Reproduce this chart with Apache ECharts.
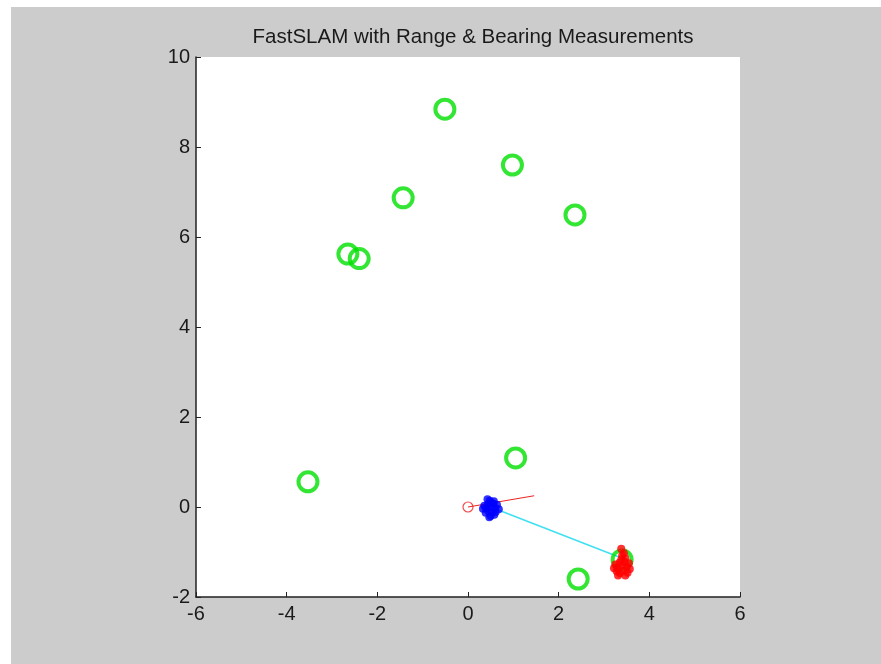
<!DOCTYPE html>
<html>
<head>
<meta charset="utf-8">
<script src="https://cdn.jsdelivr.net/npm/echarts@6/dist/echarts.min.js"></script>
<style>
  html, body { margin: 0; padding: 0; background: #ffffff; }
  #frame { position: absolute; left: 11px; top: 7px; width: 870px; height: 657px; background: #cccccc; }
  #chart { position: absolute; left: 0; top: 0; width: 881px; height: 664px; }
</style>
</head>
<body>
<div id="frame"></div>
<div id="chart"></div>
<script>
// Landmark positions (true map)
const landmarks = [
  [-0.51, 8.84], [0.98, 7.60], [2.36, 6.49], [-1.43, 6.87],
  [-2.65, 5.62], [-2.40, 5.52], [-3.53, 0.56], [1.05, 1.09],
  [2.43, -1.60], [3.40, -1.17]
];

// Robot start pose and heading line
const startPose = [[0, 0]];
const headingLine = [[0, 0], [1.46, 0.25]];

// Robot particle cloud (blue)
const robotParticles = [
  [0.50, 0.00], [0.44, 0.06], [0.56, 0.07], [0.40, -0.03], [0.60, -0.02],
  [0.48, 0.14], [0.53, -0.11], [0.36, 0.03], [0.64, 0.05], [0.45, -0.09],
  [0.57, 0.13], [0.61, -0.11], [0.50, -0.20], [0.43, 0.17], [0.68, -0.05],
  [0.39, -0.13], [0.52, 0.09], [0.58, -0.17], [0.33, -0.04], [0.47, -0.23]
];

// Estimated landmark particles (red)
const landmarkParticles = [
  [3.40, -1.30], [3.34, -1.24], [3.46, -1.22], [3.30, -1.35], [3.50, -1.33],
  [3.38, -1.17], [3.42, -1.41], [3.25, -1.28], [3.55, -1.25], [3.35, -1.47],
  [3.47, -1.14], [3.28, -1.43], [3.57, -1.38], [3.40, -1.08], [3.22, -1.36],
  [3.52, -1.46], [3.44, -1.03], [3.38, -0.93], [3.31, -1.52], [3.47, -1.52]
];

// Current measurement ray (robot -> observed landmark)
const measurement = [[0.50, 0.00], [3.33, -1.11]];

const xTicks = { min: -6, max: 6, interval: 2 };
const yTicks = { min: -2, max: 10, interval: 2 };

const chart = echarts.init(document.getElementById('chart'), null, { renderer: 'canvas' });
const font = 'Liberation Sans, Arial, sans-serif';

chart.setOption({
  backgroundColor: 'transparent',
  animation: false,
  title: {
    text: 'FastSLAM with Range & Bearing Measurements',
    left: 468, top: 22, textAlign: 'center',
    textStyle: { fontFamily: font, fontSize: 20.5, fontWeight: 'normal', color: '#1a1a1a' }
  },
  grid: { left: 196, right: 141, top: 57, bottom: 67, show: true, backgroundColor: '#ffffff', borderWidth: 0 },
  xAxis: {
    type: 'value', min: xTicks.min, max: xTicks.max, interval: xTicks.interval,
    axisLine: { show: true, onZero: false, lineStyle: { color: '#222', width: 1.5 } },
    axisTick: { show: true, inside: true, length: 5, lineStyle: { color: '#222', width: 1 } },
    splitLine: { show: false },
    axisLabel: { margin: 7, fontFamily: font, fontSize: 20, color: '#1a1a1a' }
  },
  yAxis: {
    type: 'value', min: yTicks.min, max: yTicks.max, interval: yTicks.interval,
    axisLine: { show: true, onZero: false, lineStyle: { color: '#222', width: 1.5 } },
    axisTick: { show: true, inside: true, length: 5, lineStyle: { color: '#222', width: 1 } },
    splitLine: { show: false },
    axisLabel: { margin: 6, fontFamily: font, fontSize: 20, color: '#1a1a1a' }
  },
  series: [
    {
      type: 'line', data: measurement, symbol: 'none',
      lineStyle: { color: '#3fe0f2', width: 1.5 }, z: 2
    },
    {
      type: 'scatter', data: landmarks, symbol: 'circle', symbolSize: 19,
      itemStyle: { color: 'rgba(0,0,0,0)', borderColor: '#00e000', borderWidth: 4 }, z: 3
    },
    {
      type: 'line', data: headingLine, symbol: 'none',
      lineStyle: { color: '#ee2222', width: 1 }, z: 4
    },
    {
      type: 'scatter', data: startPose, symbol: 'circle', symbolSize: 10,
      itemStyle: { color: 'rgba(0,0,0,0)', borderColor: '#ee2222', borderWidth: 1.2 }, z: 4
    },
    {
      type: 'scatter', data: robotParticles, symbol: 'circle', symbolSize: 8,
      itemStyle: { color: '#0000ff' }, z: 5
    },
    {
      type: 'scatter', data: landmarkParticles, symbol: 'circle', symbolSize: 8,
      itemStyle: { color: '#ff0000' }, z: 5
    }
  ]
});
</script>
</body>
</html>
